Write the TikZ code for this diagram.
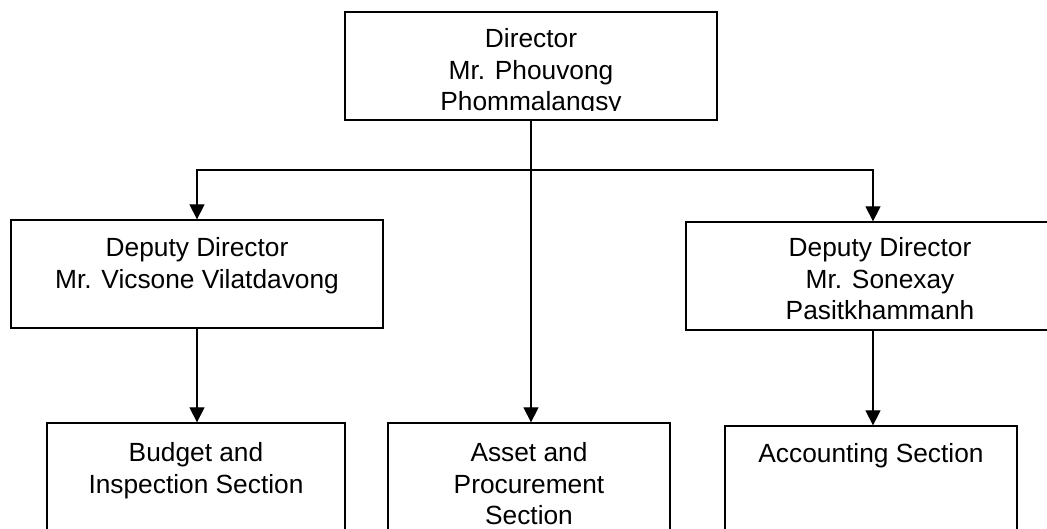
\documentclass[tikz,border=0pt]{standalone}
\usepackage{fontspec}
\setmainfont{Liberation Sans}
\usetikzlibrary{arrows.meta}
\begin{document}
\begin{tikzpicture}[x=1bp,y=-1bp,
  box/.style={draw,line width=1.3bp,rectangle,inner sep=0pt},
  txt/.style={align=center,inner sep=0pt,anchor=north,font=\fontsize{26.3bp}{31.5bp}\selectfont},
  conn/.style={line width=1.3bp},
  arr/.style={line width=1.3bp,-{Triangle[width=15bp,length=15bp]}}]
\useasboundingbox (0,0) rectangle (1047,529);
\clip (0,0) rectangle (1047,529);
% boxes
\node[box,minimum width=372bp,minimum height=108bp] (dir) at (531,66) {};
\node[box,minimum width=372bp,minimum height=108bp] (depL) at (197,274) {};
\node[box,minimum width=374bp,minimum height=108bp] (depR) at (873,276) {};
\node[box,minimum width=298bp,minimum height=140bp] (bL) at (196,493) {};
\node[box,minimum width=282bp,minimum height=140bp] (bM) at (529,493) {};
\node[box,minimum width=292bp,minimum height=140bp] (bR) at (871,496) {};
% texts
\begin{scope}
\clip (345,12) rectangle (717,111);
\node[txt] (tdir) at (531,28.5) {Director\\Mr. Phouvong\\Phommalangsy};
\end{scope}
\node[txt] (tdepL) at (197,237.5) {Deputy Director\\Mr. Vicsone Vilatdavong};
\node[txt] (tdepR) at (880,237.5) {Deputy Director\\Mr. Sonexay\\Pasitkhammanh};
\node[txt] (tbL) at (196,442.5) {Budget and\\Inspection Section};
\node[txt] (tbM) at (529,442.5) {Asset and\\Procurement\\Section};
\node[txt] (tbR) at (871,443.5) {Accounting Section};
% connectors
\coordinate (j) at (531,170);
\coordinate (jl) at (197,170);
\coordinate (jr) at (873,170);
\draw[conn] (dir.south) -- (j);
\draw[arr] (j) -- (jl) -- (depL.north);
\draw[arr] (j) -- (jr) -- (depR.north);
\draw[arr] (j) -- (j |- bM.north);
\draw[arr] (depL.south) -- (depL.south |- bL.north);
\draw[arr] (depR.south) -- (depR.south |- bR.north);
\end{tikzpicture}
\end{document}
